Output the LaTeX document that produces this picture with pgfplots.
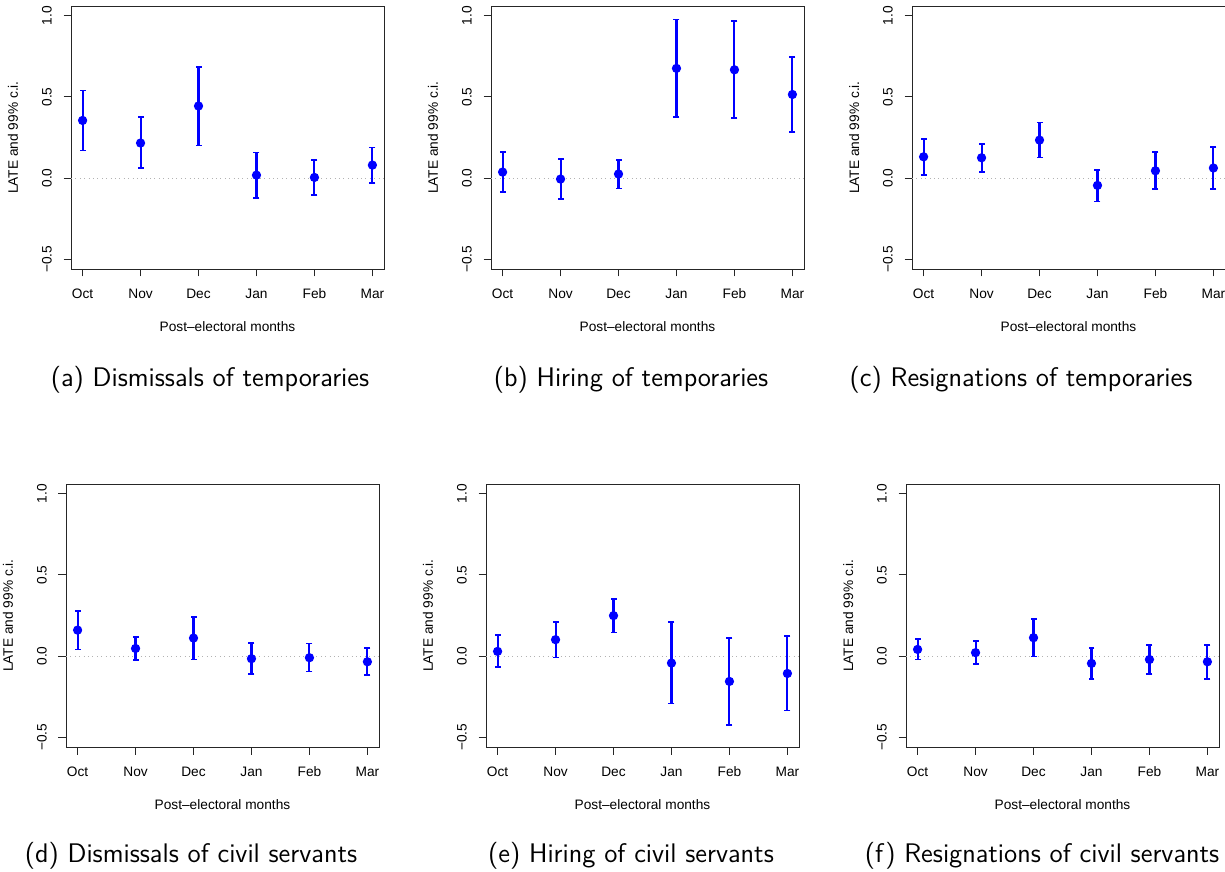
\documentclass[border=0pt]{standalone}
\usepackage{fontspec}
\setmainfont{Liberation Sans}
\usepackage{pgfplots}
\usepackage{pgfplotstable}
\pgfplotsset{compat=1.18}

\definecolor{rblue}{RGB}{0,0,255}

% month x LATE lower upper (99% c.i.)
\pgfplotstableread{
x y lo hi
1 0.355 0.170 0.540
2 0.216 0.060 0.374
3 0.444 0.201 0.686
4 0.018 -0.125 0.158
5 0.004 -0.105 0.111
6 0.080 -0.029 0.189
}\dataA
\pgfplotstableread{
x y lo hi
1 0.037 -0.088 0.160
2 -0.006 -0.131 0.119
3 0.025 -0.064 0.111
4 0.676 0.374 0.977
5 0.667 0.368 0.967
6 0.515 0.283 0.747
}\dataB
\pgfplotstableread{
x y lo hi
1 0.131 0.021 0.240
2 0.125 0.039 0.209
3 0.234 0.127 0.343
4 -0.045 -0.144 0.051
5 0.045 -0.068 0.162
6 0.062 -0.066 0.191
}\dataC
\pgfplotstableread{
x y lo hi
1 0.160 0.041 0.280
2 0.047 -0.023 0.117
3 0.111 -0.021 0.243
4 -0.016 -0.111 0.082
5 -0.010 -0.095 0.078
6 -0.035 -0.117 0.049
}\dataD
\pgfplotstableread{
x y lo hi
1 0.029 -0.068 0.128
2 0.101 -0.008 0.210
3 0.249 0.146 0.352
4 -0.043 -0.292 0.208
5 -0.156 -0.424 0.111
6 -0.107 -0.335 0.123
}\dataE
\pgfplotstableread{
x y lo hi
1 0.041 -0.021 0.103
2 0.021 -0.051 0.095
3 0.113 -0.002 0.230
4 -0.045 -0.140 0.049
5 -0.021 -0.109 0.070
6 -0.035 -0.140 0.070
}\dataF

\pgfplotsset{
  rpanel/.style={
    scale only axis, width=6.26cm, height=5.26cm,
    anchor=north west,
    xmin=0.8, xmax=6.2, ymin=-0.56, ymax=1.06,
    xtick={1,2,3,4,5,6}, xticklabels={Oct,Nov,Dec,Jan,Feb,Mar},
    ytick={-0.5,0,0.5,1}, yticklabels={−0.5,0.0,0.5,1.0},
    xtick pos=left, ytick pos=left,
    tick align=outside, major tick length=0.15cm,
    tick style={black!85, line width=0.5pt},
    axis line style={black!85, line width=0.5pt},
    font=\fontsize{7.8}{9}\selectfont,
    xticklabel style={anchor=center, inner sep=0pt, yshift=-0.35cm},
    yticklabel style={xshift=-0.33cm, rotate=90, anchor=center, inner sep=0pt},
    clip=false,
  },
}

\newcommand{\panel}[1]{%
  \addplot[gray!60, dotted, line width=0.5pt] coordinates {(0.8,0) (6.2,0)};
  % interval lines
  \addplot[color=rblue, line width=1.2pt, only marks, mark=none,
    error bars/y dir=both, error bars/y explicit,
    error bars/error mark=none,
    error bars/error bar style={rblue, line width=1.2pt}]
    table[x=x, y=y,
    y error plus expr=\thisrow{hi}-\thisrow{y},
    y error minus expr=\thisrow{y}-\thisrow{lo}] {#1};
  % caps
  \addplot[color=rblue, line width=1pt, only marks, mark=-, mark size=1.7pt]
    table[x=x, y=hi] {#1};
  \addplot[color=rblue, line width=1pt, only marks, mark=-, mark size=1.7pt]
    table[x=x, y=lo] {#1};
  % estimates
  \addplot[color=rblue, only marks, mark=*, mark size=2pt]
    table[x=x, y=y] {#1};
  \node[anchor=center, inner sep=0pt, font=\fontsize{7.8}{9}\selectfont]
    at (rel axis cs:0.5,-0.2205) {Post–electoral months};
  \node[anchor=center, inner sep=0pt, rotate=90, font=\fontsize{7.8}{9}\selectfont]
    at (rel axis cs:-0.185,0.5) {LATE and 99\% c.i.};
}

\begin{document}
\begin{tikzpicture}
\useasboundingbox (0,0) rectangle (24.5cm,-17.44cm);

\begin{axis}[rpanel, at={(1.42cm,-0.12cm)}]
\panel{\dataA}
\end{axis}
\begin{axis}[rpanel, at={(9.82cm,-0.12cm)}]
\panel{\dataB}
\end{axis}
\begin{axis}[rpanel, at={(18.24cm,-0.12cm)}]
\panel{\dataC}
\end{axis}
\begin{axis}[rpanel, at={(1.32cm,-9.68cm)}]
\panel{\dataD}
\end{axis}
\begin{axis}[rpanel, at={(9.72cm,-9.68cm)}]
\panel{\dataE}
\end{axis}
\begin{axis}[rpanel, at={(18.12cm,-9.68cm)}]
\panel{\dataF}
\end{axis}

\begin{scope}[every node/.style={font=\sffamily\fontsize{15.3}{17}\selectfont}]
\node at (4.20cm,-7.60cm) {(a) Dismissals of temporaries};
\node at (12.62cm,-7.60cm) {(b) Hiring of temporaries};
\node at (20.42cm,-7.60cm) {(c) Resignations of temporaries};
\node at (3.82cm,-17.12cm) {(d) Dismissals of civil servants};
\node at (12.62cm,-17.12cm) {(e) Hiring of civil servants};
\node at (20.84cm,-17.12cm) {(f) Resignations of civil servants};
\end{scope}
\end{tikzpicture}
\end{document}
